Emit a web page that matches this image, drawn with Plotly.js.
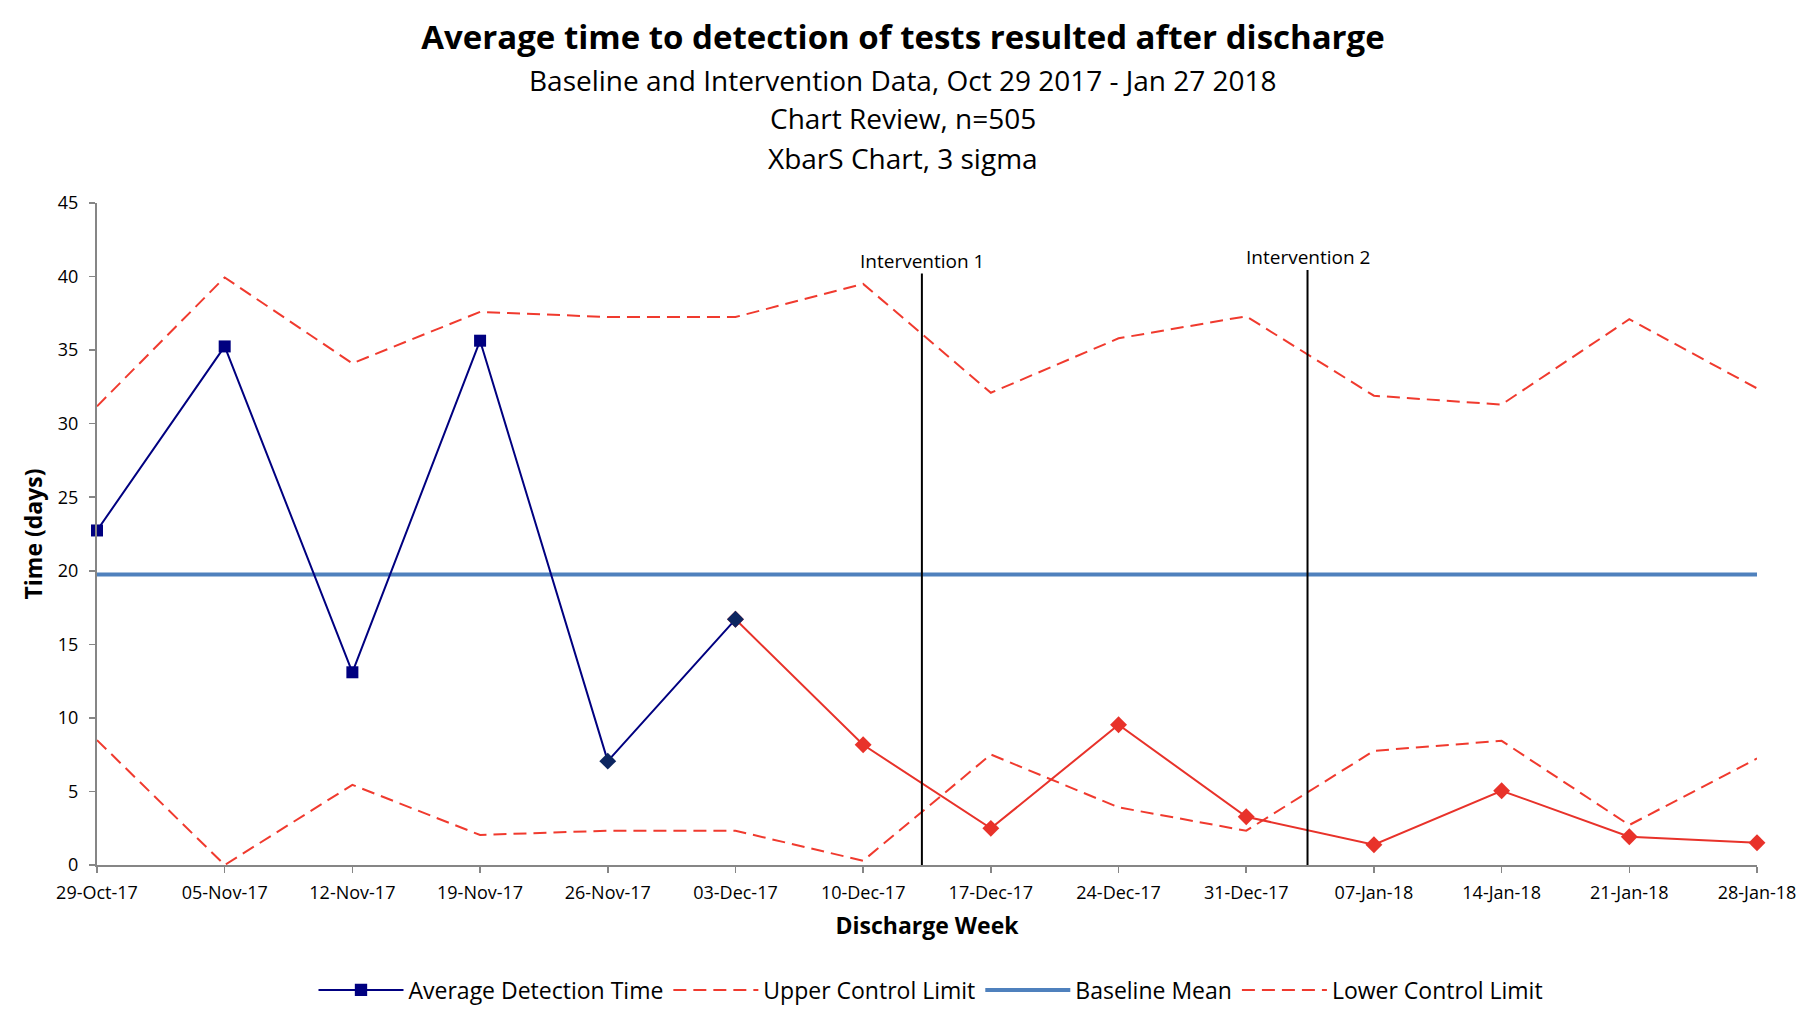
<!DOCTYPE html>
<html>
<head>
<meta charset="utf-8">
<script src="https://cdn.plot.ly/plotly-3.0.1.min.js"></script>
<style>html,body{margin:0;padding:0;background:#fff;}#chart{width:1816px;height:1012px;}</style>
</head>
<body>
<div id="chart"></div>
<script>
const weeks = ['29-Oct-17','05-Nov-17','12-Nov-17','19-Nov-17','26-Nov-17','03-Dec-17','10-Dec-17','17-Dec-17','24-Dec-17','31-Dec-17','07-Jan-18','14-Jan-18','21-Jan-18','28-Jan-18'];
const avgTime = [22.74, 35.25, 13.1, 35.64, 7.06, 16.7, 8.17, 2.49, 9.53, 3.28, 1.38, 5.05, 1.92, 1.51];
const ucl = [31.18, 39.94, 34.1, 37.6, 37.25, 37.25, 39.5, 32.1, 35.8, 37.3, 31.9, 31.3, 37.1, 32.4];
const lcl = [8.49, 0, 5.45, 2.04, 2.33, 2.33, 0.29, 7.51, 3.92, 2.33, 7.76, 8.44, 2.72, 7.24];
const baselineMean = 19.74;
const baselineCount = 6;   // baseline weeks (blue segment incl. 03-Dec)
const baselineSquares = 4; // square-marked points
const interventions = [{label:'Intervention 1', pos:6.46, top:40.2}, {label:'Intervention 2', pos:9.48, top:40.45}];
const yTicks = [0,5,10,15,20,25,30,35,40,45];

const FONT = 'Open Sans, Arial, sans-serif';
const navy = '#000080', midNavy = '#0d2660', red = '#e8322a', dashRed = '#f03a2e';

const blueX = weeks.slice(0, baselineCount);
const blueY = avgTime.slice(0, baselineCount);
const blueSym = blueX.map((_, i) => i < baselineSquares ? 'square' : 'diamond');
const blueCol = blueX.map((_, i) => i < baselineSquares ? navy : midNavy);

const traces = [
  {x: weeks, y: ucl, name: 'Upper Control Limit', mode: 'lines', legendrank: 2,
   line: {color: dashRed, width: 2, dash: '13px,7px'}},
  {x: weeks, y: weeks.map(() => baselineMean), name: 'Baseline Mean', mode: 'lines', legendrank: 3,
   line: {color: '#4f81bd', width: 4}},
  {x: weeks, y: lcl, name: 'Lower Control Limit', mode: 'lines', legendrank: 4,
   line: {color: dashRed, width: 2, dash: '13px,7px'}},
  {x: weeks.slice(baselineCount - 1), y: avgTime.slice(baselineCount - 1), mode: 'lines+markers', showlegend: false,
   line: {color: red, width: 2}, marker: {symbol: 'diamond', size: 13, color: red, opacity: 1, line: {width: 0}}, cliponaxis: false},
  {x: blueX, y: blueY, name: 'Average Detection Time', mode: 'lines+markers', legendrank: 1,
   line: {color: navy, width: 2},
   marker: {symbol: blueSym, size: blueSym.map(s => s === 'square' ? 12 : 13), color: blueCol, opacity: 1, line: {width: 0}},
   cliponaxis: false}
];

const shapes = interventions.map(iv => ({type: 'line', xref: 'x', yref: 'y', x0: iv.pos, x1: iv.pos, y0: 0, y1: iv.top,
  line: {color: '#000', width: 2}}));

const annotations = interventions.map(iv => ({xref: 'x', yref: 'y', x: iv.pos, y: iv.top, yanchor: 'bottom', yshift: -2,
  text: iv.label, showarrow: false, font: {family: FONT, size: 19, color: '#000'}}));

const PT = 203, PB = 865, PH = PB - PT; // plot top / bottom / height in px
const subtitles = ['Baseline and Intervention Data, Oct 29 2017 - Jan 27 2018', 'Chart Review, n=505', 'XbarS Chart, 3 sigma'];
const subY = [80, 118, 158];
subtitles.forEach((t, i) => annotations.push({xref: 'paper', yref: 'paper', x: (903 - 97) / 1660, y: (PB - subY[i]) / PH,
  xanchor: 'center', yanchor: 'middle', text: t, showarrow: false, font: {family: FONT, size: 28, color: '#000'}}));

const layout = {
  width: 1816, height: 1012,
  margin: {l: 97, r: 59, t: PT, b: 1012 - PB, autoexpand: false},
  paper_bgcolor: '#fff', plot_bgcolor: '#fff',
  font: {family: FONT, color: '#000'},
  title: {text: '<b>Average time to detection of tests resulted after discharge</b>', x: 903 / 1816, xref: 'container',
    y: 1 - 37 / 1012, yref: 'container', xanchor: 'center', yanchor: 'middle', font: {family: FONT, size: 33, color: '#000'}},
  xaxis: {type: 'category', categoryorder: 'array', categoryarray: weeks, range: [0, weeks.length - 1],
    showgrid: false, zeroline: false, showline: true, linecolor: '#868686', linewidth: 2,
    ticks: 'outside', ticklen: 6, tickcolor: '#868686', tickwidth: 1.5, ticklabelstandoff: 4,
    tickfont: {family: FONT, size: 18, color: '#000'},
    title: {text: '<b>Discharge Week</b>', font: {family: FONT, size: 23, color: '#000'}, standoff: 15}},
  yaxis: {range: [0, 45], tickvals: yTicks, showgrid: false, zeroline: false, showline: true, linecolor: '#868686', linewidth: 2,
    ticks: 'outside', ticklen: 6, tickcolor: '#868686', tickwidth: 1.5, ticklabelstandoff: 7,
    tickfont: {family: FONT, size: 18, color: '#000'},
    title: {text: '<b>Time (days)</b>', font: {family: FONT, size: 23, color: '#000'}, standoff: 9}},
  legend: {orientation: 'h', x: (931 - 97) / 1660, xanchor: 'center', y: (PB - 990) / PH, yanchor: 'middle',
    font: {family: FONT, size: 23, color: '#000'}, traceorder: 'normal', itemwidth: 85},
  shapes: shapes,
  annotations: annotations,
  showlegend: true
};

Plotly.newPlot('chart', traces, layout, {displayModeBar: false, staticPlot: true});
</script>
</body>
</html>
